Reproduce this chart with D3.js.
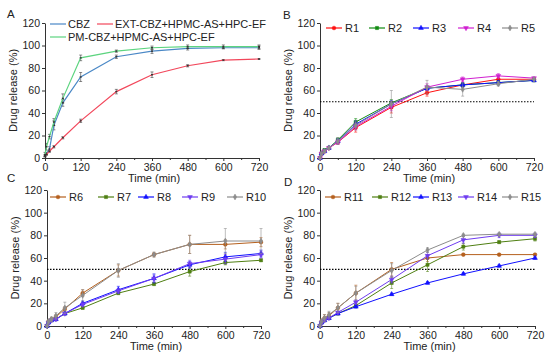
<!DOCTYPE html>
<html>
<head>
<meta charset="utf-8">
<script src="https://cdn.jsdelivr.net/npm/d3@7"></script>
<style>
  body { margin: 0; background: #fff; }
  svg { font-family: "Liberation Sans", Arial, sans-serif; }
  .axis text { font-size: 10.5px; fill: #222; }
  .axis path, .axis line { stroke: #333; stroke-width: 1; }
</style>
</head>
<body>
<div id="chart"></div>
<script>
// sampling times (min)
var times = [0, 5, 15, 30, 60, 120, 240, 360, 480, 600, 720];
var xTicks = [0, 120, 240, 360, 480, 600, 720];
var yTicks = [0, 20, 40, 60, 80, 100, 120];

// panel A
var cbzValues = [2, 4, 8, 29, 49, 72, 90, 95, 97.5, 98, 98];
var cbzErrors = [1, 1, 2, 4, 3, 4, 1.5, 2, 1.5, 1, 1.5];
var extValues = [2, 3, 6, 10, 18, 33, 59, 74, 82, 87, 88];
var extErrors = [0.5, 0.5, 1, 1, 1, 1.5, 2, 2.5, 1, 0.5, 0.5];
var pmValues = [3, 10, 19, 32, 53, 89, 95, 98, 99, 99, 99];
var pmErrors = [2, 3, 2, 3, 4, 2.5, 1, 1.5, 1.5, 1.5, 1.5];

// panel B
var r1Values = [0, 4, 6, 9, 14, 27, 45, 58, 65, 70, 70];
var r1Errors = [0, 1, 1, 1, 2, 4, 5, 3, 2, 2, 1];
var r2Values = [0, 4, 7, 9, 16, 32, 49, 62, 65, 67, 69];
var r2Errors = [0, 1, 1, 1, 2, 3, 3, 2, 2, 2, 1];
var r3Values = [0, 4, 6, 9, 15, 30, 48, 62, 65, 67, 69];
var r3Errors = [0, 1, 1, 1, 2, 3, 3, 2, 2, 2, 1];
var r4Values = [0, 4, 6, 9, 14, 28, 46, 63, 70, 73, 71];
var r4Errors = [0, 1, 1, 1, 2, 3, 4, 3, 2, 2, 1];
var r5Values = [0, 4, 6, 9, 15, 29, 48, 63, 61, 66, 70];
var r5Errors = [0, 1, 1, 1, 3, 4, 12, 6, 6, 2, 1];

// panel C
var r6Values = [0, 4, 6, 8, 15, 29, 49, 63, 72, 72, 74];
var r6Errors = [0, 1, 1, 2, 2, 3, 5, 2, 8, 4, 4];
var r7Values = [0, 3, 5, 6, 11, 16, 29, 37, 48, 56, 58];
var r7Errors = [0, 1, 1, 1, 1, 1, 1, 1, 4, 2, 1];
var r8Values = [0, 3, 5, 6, 11, 20, 32, 42, 54, 61, 64];
var r8Errors = [0, 1, 1, 1, 1, 2, 3, 4, 3, 4, 3];
var r9Values = [0, 3, 5, 6, 11, 19, 31, 42, 55, 59, 63];
var r9Errors = [0, 1, 1, 1, 1, 2, 2, 3, 3, 4, 3];
var r10Values = [0, 4, 6, 9, 16, 27, 49, 63, 72, 75, 75];
var r10Errors = [0, 2, 2, 3, 5, 5, 6, 2, 8, 11, 11];

// panel D
var r11Values = [0, 4, 7, 9, 16, 29, 50, 60, 63, 63, 63];
var r11Errors = [0, 2, 3, 3, 4, 7, 6, 3, 1, 1, 1];
var r12Values = [0, 3, 5, 7, 11, 18, 38, 54, 70, 74, 77];
var r12Errors = [0, 1, 1, 1, 1, 2, 5, 6, 3, 1, 2];
var r13Values = [0, 3, 5, 7, 11, 17, 28, 38, 46, 53, 60];
var r13Errors = [0, 1, 1, 1, 1, 1, 1, 1, 1, 1, 1];
var r14Values = [0, 3, 5, 7, 12, 21, 41, 62, 76, 80, 80];
var r14Errors = [0, 1, 1, 1, 1, 2, 3, 3, 3, 2, 2];
var r15Values = [0, 4, 7, 10, 16, 29, 49, 67, 80, 81, 81];
var r15Errors = [0, 2, 3, 3, 4, 6, 6, 2, 1, 1, 1];

var brown = "#b5601e", olive = "#4f7f12", violet = "#6f3cf0";

var panels = [
    { letter: "A", lx: 7, ly: 18, left: 45, right: 259, top: 23, bottom: 158, titleY: 182, dotted: false, markers: false,
      legendRows: [[{ i: 0, x: 50 }, { i: 1, x: 97 }], [{ i: 2, x: 50 }]], legendY: [24, 37],
      series: [
        { name: "CBZ", values: cbzValues, errors: cbzErrors, color: "#4a88c6" },
        { name: "EXT-CBZ+HPMC-AS+HPC-EF", values: extValues, errors: extErrors, color: "#f2475b" },
        { name: "PM-CBZ+HPMC-AS+HPC-EF", values: pmValues, errors: pmErrors, color: "#5cd47f" }
      ] },
    { letter: "B", lx: 283, ly: 19, left: 320, right: 534, top: 23, bottom: 158, titleY: 182, dotted: true, markers: true,
      legendRows: [[{ i: 0, x: 326 }, { i: 1, x: 369 }, { i: 2, x: 413 }, { i: 3, x: 458 }, { i: 4, x: 502 }]], legendY: [28],
      series: [
        { name: "R1", values: r1Values, errors: r1Errors, color: "#ff1010", shape: d3.symbolCircle },
        { name: "R2", values: r2Values, errors: r2Errors, color: "#118a11", shape: d3.symbolSquare },
        { name: "R3", values: r3Values, errors: r3Errors, color: "#1010ff", shape: d3.symbolTriangle },
        { name: "R4", values: r4Values, errors: r4Errors, color: "#d020d0", shape: "down" },
        { name: "R5", values: r5Values, errors: r5Errors, color: "#8c8c8c", shape: d3.symbolDiamond }
      ] },
    { letter: "C", lx: 7, ly: 182, left: 47, right: 261, top: 190, bottom: 326, titleY: 350, dotted: true, markers: true,
      legendRows: [[{ i: 0, x: 50 }, { i: 1, x: 98 }, { i: 2, x: 138 }, { i: 3, x: 182 }, { i: 4, x: 227 }]], legendY: [197],
      series: [
        { name: "R6", values: r6Values, errors: r6Errors, color: brown, shape: d3.symbolCircle },
        { name: "R7", values: r7Values, errors: r7Errors, color: olive, shape: d3.symbolSquare },
        { name: "R8", values: r8Values, errors: r8Errors, color: "#1010ff", shape: d3.symbolTriangle },
        { name: "R9", values: r9Values, errors: r9Errors, color: violet, shape: "down" },
        { name: "R10", values: r10Values, errors: r10Errors, color: "#8c8c8c", shape: d3.symbolDiamond }
      ] },
    { letter: "D", lx: 284, ly: 186, left: 320, right: 535, top: 190, bottom: 326, titleY: 350, dotted: true, markers: true,
      legendRows: [[{ i: 0, x: 325 }, { i: 1, x: 372 }, { i: 2, x: 413 }, { i: 3, x: 458 }, { i: 4, x: 502 }]], legendY: [197],
      series: [
        { name: "R11", values: r11Values, errors: r11Errors, color: brown, shape: d3.symbolCircle },
        { name: "R12", values: r12Values, errors: r12Errors, color: olive, shape: d3.symbolSquare },
        { name: "R13", values: r13Values, errors: r13Errors, color: "#1010ff", shape: d3.symbolTriangle },
        { name: "R14", values: r14Values, errors: r14Errors, color: violet, shape: "down" },
        { name: "R15", values: r15Values, errors: r15Errors, color: "#8c8c8c", shape: d3.symbolDiamond }
      ] }
];

var svg = d3.select("#chart").append("svg")
    .attr("width", 550)
    .attr("height", 359);

function drawMarker(g, shape, color, x, y) {
    var sym = shape === "down" ? d3.symbolTriangle : shape;
    var size = shape === d3.symbolCircle ? 11 : 10;
    var p = g.append("path")
        .attr("d", d3.symbol().type(sym).size(size)())
        .attr("fill", color)
        .attr("stroke", color)
        .attr("stroke-width", 0.5);
    p.attr("transform", "translate(" + x + "," + y + ")" + (shape === "down" ? " rotate(180)" : ""));
}

function drawPanel(cfg) {
    var x = d3.scaleLinear().domain([0, 720]).range([cfg.left, cfg.right]);
    var y = d3.scaleLinear().domain([0, 120]).range([cfg.bottom, cfg.top]);
    var g = svg.append("g");

    // minor x ticks
    g.append("g").attr("class", "axis")
        .attr("transform", "translate(0," + cfg.bottom + ")")
        .call(d3.axisBottom(x).tickValues([60, 180, 300, 420, 540, 660]).tickSize(2).tickFormat(""))
        .select(".domain").remove();

    g.append("g").attr("class", "axis")
        .attr("transform", "translate(0," + cfg.bottom + ")")
        .call(d3.axisBottom(x).tickValues(xTicks).tickSize(3).tickSizeOuter(0).tickPadding(3));

    g.append("g").attr("class", "axis")
        .attr("transform", "translate(" + cfg.left + ",0)")
        .call(d3.axisLeft(y).tickValues(yTicks).tickSize(3).tickSizeOuter(0).tickPadding(2));

    g.append("text")
        .attr("x", (cfg.left + cfg.right) / 2 + 2)
        .attr("y", cfg.titleY)
        .attr("text-anchor", "middle")
        .attr("font-size", "11px")
        .attr("fill", "#222")
        .text("Time (min)");

    g.append("text")
        .attr("transform", "translate(" + (cfg.left - 28) + "," + ((cfg.top + cfg.bottom) / 2) + ") rotate(-90)")
        .attr("text-anchor", "middle")
        .attr("font-size", "11px")
        .attr("fill", "#222")
        .text("Drug release (%)");

    g.append("text")
        .attr("x", cfg.lx)
        .attr("y", cfg.ly)
        .attr("font-size", "11.5px")
        .attr("fill", "#222")
        .text(cfg.letter);

    if (cfg.dotted) {
        g.append("line")
            .attr("x1", x(0)).attr("x2", x(720))
            .attr("y1", y(50)).attr("y2", y(50))
            .attr("stroke", "#000")
            .attr("stroke-width", 1.2)
            .attr("stroke-dasharray", "1.5,1.5");
    }

    var line = d3.line()
        .x(function(d) { return x(d.t); })
        .y(function(d) { return y(d.v); });

    cfg.series.forEach(function(s) {
        var pts = times.map(function(t, i) { return { t: t, v: s.values[i], e: s.errors[i] }; });
        var errColor = cfg.markers ? s.color : "#333";

        pts.forEach(function(d) {
            if (!d.e) return;
            var cx = x(d.t), y1 = y(d.v - d.e), y2 = y(d.v + d.e);
            g.append("line").attr("x1", cx).attr("x2", cx).attr("y1", y1).attr("y2", y2)
                .attr("stroke", errColor).attr("stroke-width", 0.8).attr("opacity", 0.7);
            [y1, y2].forEach(function(yy) {
                g.append("line").attr("x1", cx - 1.5).attr("x2", cx + 1.5).attr("y1", yy).attr("y2", yy)
                    .attr("stroke", errColor).attr("stroke-width", 0.8).attr("opacity", 0.7);
            });
        });

        g.append("path").datum(pts)
            .attr("d", line)
            .attr("fill", "none")
            .attr("stroke", s.color)
            .attr("stroke-width", cfg.markers ? 1 : 1.2);

        if (cfg.markers) {
            pts.forEach(function(d) { drawMarker(g, s.shape, s.color, x(d.t), y(d.v)); });
        } else {
            pts.forEach(function(d) {
                g.append("rect").attr("x", x(d.t) - 1).attr("y", y(d.v) - 0.7)
                    .attr("width", 2).attr("height", 1.4).attr("fill", "#333");
            });
        }
    });

    // legend
    cfg.legendRows.forEach(function(row, r) {
        var ly = cfg.legendY[r];
        row.forEach(function(item) {
            var s = cfg.series[item.i];
            g.append("line")
                .attr("x1", item.x).attr("x2", item.x + 16)
                .attr("y1", ly).attr("y2", ly)
                .attr("stroke", s.color).attr("stroke-width", 1.2);
            if (cfg.markers) drawMarker(g, s.shape, s.color, item.x + 8, ly);
            g.append("text")
                .attr("x", item.x + (cfg.markers ? 19 : 18))
                .attr("y", ly + 4)
                .attr("font-size", "11px")
                .attr("fill", "#222")
                .text(s.name);
        });
    });
}

panels.forEach(drawPanel);
</script>
</body>
</html>
